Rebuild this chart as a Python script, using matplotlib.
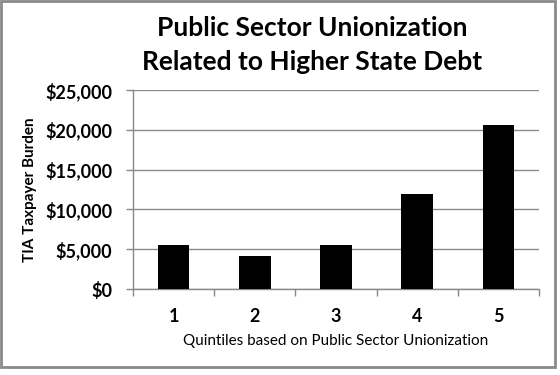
import matplotlib.pyplot as plt
from matplotlib.ticker import FuncFormatter, FixedLocator
from matplotlib.patches import Rectangle

quintiles = ["1", "2", "3", "4", "5"]
burden = [5530, 4150, 5490, 11900, 20640]

plt.rcParams['font.family'] = ['Lato', 'DejaVu Sans']

fig = plt.figure(figsize=(5.6, 3.75), dpi=100)
ax = fig.add_axes([0.2375, 0.2293, 0.725, 0.5307])

x = list(range(1, len(quintiles) + 1))
ax.bar(x, burden, width=0.39, color='black', zorder=3)

ax.set_xlim(0.5, 5.5)
ax.set_ylim(0, 25000)
ax.set_yticks(range(0, 25001, 5000))
ax.yaxis.set_major_formatter(FuncFormatter(lambda v, p: "${:,.0f}".format(v)))
ax.set_xticks(x)
ax.set_xticklabels(quintiles)
ax.xaxis.set_minor_locator(FixedLocator([0.5, 1.5, 2.5, 3.5, 4.5, 5.5]))
ax.tick_params(axis='x', which='major', length=0, pad=14)
ax.tick_params(axis='x', which='minor', length=5, color='#888888', width=1)
ax.tick_params(axis='y', length=5, color='#888888', width=1, pad=10)
for lab in ax.get_xticklabels() + ax.get_yticklabels():
    lab.set_fontsize(13)
    lab.set_fontweight('bold')

ax.grid(axis='y', color='#8c8c8c', linewidth=1, zorder=0)
for s in ['top', 'right']:
    ax.spines[s].set_visible(False)
for s in ['left', 'bottom']:
    ax.spines[s].set_color('#888888')
    ax.spines[s].set_linewidth(1)

ax.set_ylabel("TIA Taxpayer Burden", fontsize=11, fontweight='bold', labelpad=6)
ax.set_xlabel("Quintiles based on Public Sector Unionization", fontsize=11, labelpad=6)

fig.text(0.558, 0.88, "Public Sector Unionization\nRelated to Higher State Debt",
         ha='center', va='center', fontsize=19, fontweight='bold', linespacing=1.55)

fig.patches.append(Rectangle((0.002, 0.021), 0.989, 0.976, transform=fig.transFigure,
                             fill=False, edgecolor='#8a8a8a', linewidth=2))

fig.savefig("out.png", dpi=100)
